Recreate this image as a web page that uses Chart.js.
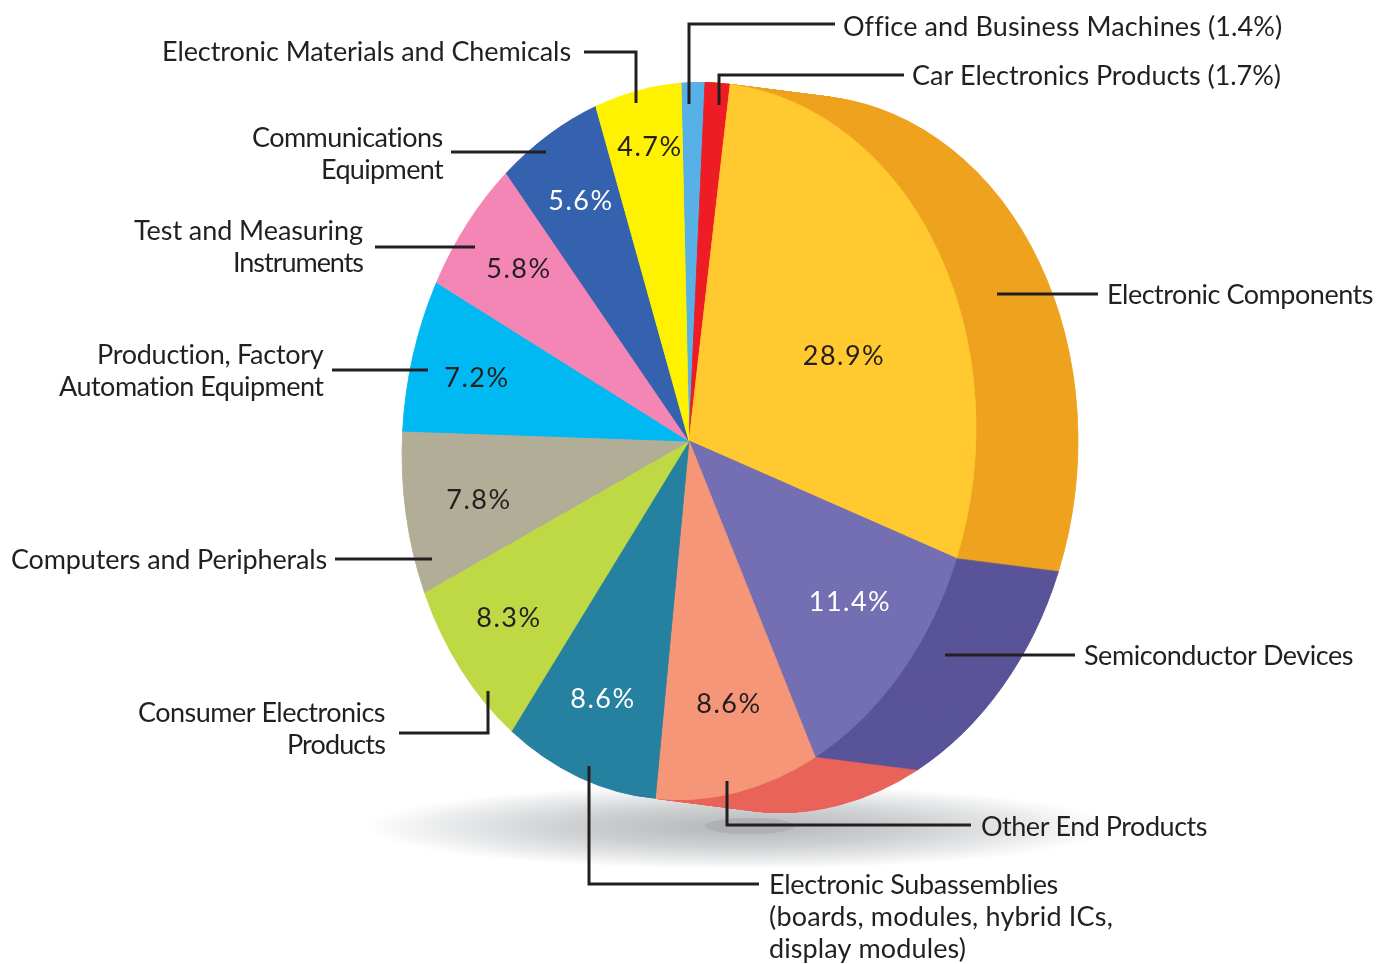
<!DOCTYPE html>
<html>
<head>
<meta charset="utf-8">
<title>Electronics end products</title>
<script src="https://cdn.jsdelivr.net/npm/chart.js@4/dist/chart.umd.min.js"></script>
<style>
  html, body { margin: 0; background: #fff; }
  canvas { display: block; }
</style>
</head>
<body>
<canvas id="pieChart" width="1390" height="964"></canvas>
<script>
// data, clockwise from the top of the pie
const categories = ['Office and Business Machines', 'Car Electronics Products', 'Electronic Components',
  'Semiconductor Devices', 'Other End Products', 'Electronic Subassemblies', 'Consumer Electronics Products',
  'Computers and Peripherals', 'Production, Factory Automation Equipment', 'Test and Measuring Instruments',
  'Communications Equipment', 'Electronic Materials and Chemicals'];
// the percentages printed on the picture
const printedShares = [1.4, 1.7, 28.9, 11.4, 8.6, 8.6, 8.3, 7.8, 7.2, 5.8, 5.6, 4.7];
// slice sizes measured off the artwork, it is not exactly to scale with the printed numbers
const drawnShares = [1.33, 1.40, 28.63, 11.85, 9.11, 8.74, 8.05, 7.38, 6.85, 6.13, 5.72, 4.82];

const sliceColors = ['#57B1E6', '#EE1C25', '#FFC92F', '#746FB2', '#F69679', '#26809F',
  '#BED944', '#B1AD96', '#00B9F2', '#F386B5', '#3462AE', '#FFF200'];
// side wall of the pie, only these slices show it
const wallColors = [null, '#EEA320', '#EEA320', '#5A5499', '#E9655A', null, null, null, null, null, null, null];

// percent labels: slice index, x, y, colour
const percentLabels = [
  [2, 844, 356, '#231F20'], [3, 850, 602, '#fff'], [4, 729, 704, '#231F20'],
  [5, 603, 699, '#fff'], [6, 509, 618, '#231F20'], [7, 479, 500, '#231F20'],
  [8, 477, 378, '#231F20'], [9, 519, 269, '#231F20'], [10, 581, 201, '#fff'],
  [11, 650, 147, '#231F20']
];

// callout text: text, left x, baseline, width in the reference
const calloutLabels = [
  ['Office and Business Machines (1.4%)', 843, 36, 438],
  ['Car Electronics Products (1.7%)', 912, 85, 369],
  ['Electronic Components', 1107, 304, 266],
  ['Semiconductor Devices', 1084, 665, 269],
  ['Other End Products', 981, 836, 226],
  ['Electronic Subassemblies', 769, 894, 289],
  ['(boards, modules, hybrid ICs,', 769, 926, 344],
  ['display modules)', 769, 958, 197],
  ['Electronic Materials and Chemicals', 162, 61, 409],
  ['Communications', 252, 147, 191],
  ['Equipment', 321, 179, 122],
  ['Test and Measuring', 134, 240, 229],
  ['Instruments', 233, 272, 130],
  ['Production, Factory', 97, 364, 227],
  ['Automation Equipment', 59, 396, 265],
  ['Computers and Peripherals', 11, 569, 316],
  ['Consumer Electronics', 138, 722, 247],
  ['Products', 287, 754, 98]
];

// leader lines as lists of x, y corners
const leaderLines = [
  [[835, 24], [689, 24], [689, 104]],
  [[904, 75], [719, 75], [719, 105]],
  [[584, 52], [636, 52], [636, 103]],
  [[451, 152], [546, 152]],
  [[375, 247], [475, 247]],
  [[332, 370], [428, 370]],
  [[997, 294], [1098, 294]],
  [[945, 655], [1075, 655]],
  [[335, 559], [432, 559]],
  [[399, 733], [488, 733], [488, 691]],
  [[727, 781], [727, 825], [971, 825]],
  [[589, 766], [589, 884], [759, 884]]
];

const inkColor = '#231F20';
const labelFont = '27px Lato';
// the pie is an upright ellipse leaning slightly to the right
const squashX = 0.8, leanX = 0.03;
const wallX = 102, wallY = 13, wallSteps = 120;

function drawFloorShadow(ctx) {
  ctx.save();
  ctx.translate(740, 827);
  ctx.scale(1, 42 / 375);
  const grad = ctx.createRadialGradient(0, 0, 0, 0, 0, 375);
  grad.addColorStop(0, '#B4B6B9');
  grad.addColorStop(0.45, '#CDCFD1');
  grad.addColorStop(0.8, '#EBECED');
  grad.addColorStop(1, '#FFFFFF');
  ctx.fillStyle = grad;
  ctx.beginPath();
  ctx.arc(0, 0, 375, 0, Math.PI * 2);
  ctx.fill();
  ctx.restore();

  ctx.fillStyle = '#AEB0B4';
  ctx.beginPath();
  ctx.ellipse(750, 826, 45, 8, 0, 0, Math.PI * 2);
  ctx.fill();
}

// stretch the letter gaps so a line takes the width it has in the reference
function fillFitted(ctx, text, x, y, width) {
  ctx.letterSpacing = '0px';
  const gap = (width - ctx.measureText(text).width) / text.length;
  ctx.letterSpacing = gap + 'px';
  ctx.fillText(text, x, y);
  ctx.letterSpacing = '0px';
}

const pie3dPlugin = {
  id: 'pie3d',
  beforeDatasetsDraw(chart) {
    const ctx = chart.ctx;
    const arcs = chart.getDatasetMeta(0).data;
    drawFloorShadow(ctx);

    // this transform stays on until afterDatasetsDraw so the slices get it too
    ctx.save();
    ctx.translate(arcs[0].x, arcs[0].y);
    ctx.transform(squashX, 0, -leanX, 1, 0, 0);
    ctx.translate(-arcs[0].x, -arcs[0].y);

    // side wall: copies of the slices, back to front
    const stepX = (wallX + leanX * wallY) / squashX / wallSteps;
    const stepY = wallY / wallSteps;
    for (let s = wallSteps; s > 0; s--) {
      ctx.save();
      ctx.translate(stepX * s, stepY * s);
      arcs.forEach((arc, i) => {
        if (!wallColors[i]) return;
        const wall = Object.create(arc);
        wall.options = {
          backgroundColor: wallColors[i], borderColor: wallColors[i], borderWidth: 1,
          borderAlign: 'center', borderJoinStyle: 'round', borderRadius: 0,
          borderDash: [], borderDashOffset: 0, offset: 0, spacing: 0, circular: true
        };
        wall.draw(ctx);
      });
      ctx.restore();
    }
  },
  afterDatasetsDraw(chart) {
    chart.ctx.restore();
  },
  afterDraw(chart) {
    const ctx = chart.ctx;
    ctx.save();
    ctx.strokeStyle = inkColor;
    ctx.lineWidth = 3;
    leaderLines.forEach(line => {
      ctx.beginPath();
      line.forEach((p, i) => i ? ctx.lineTo(p[0], p[1]) : ctx.moveTo(p[0], p[1]));
      ctx.stroke();
    });

    ctx.font = labelFont;
    ctx.textBaseline = 'alphabetic';
    ctx.textAlign = 'left';
    ctx.fillStyle = inkColor;
    calloutLabels.forEach(l => fillFitted(ctx, l[0], l[1], l[2], l[3]));

    ctx.textAlign = 'center';
    ctx.textBaseline = 'middle';
    ctx.letterSpacing = '1.5px';
    percentLabels.forEach(l => {
      ctx.fillStyle = l[3];
      ctx.fillText(printedShares[l[0]].toFixed(1) + '%', l[1], l[2]);
    });
    ctx.restore();
  }
};

new Chart(document.getElementById('pieChart'), {
  type: 'pie',
  data: {
    labels: categories,
    datasets: [{
      data: drawnShares,
      backgroundColor: sliceColors,
      borderColor: sliceColors,
      borderWidth: 1,
      clip: false
    }]
  },
  options: {
    responsive: false,
    animation: false,
    events: [],
    rotation: -3.74,
    layout: { padding: { left: 330, right: 342, top: 82, bottom: 164 } },
    plugins: { legend: { display: false }, tooltip: { enabled: false } }
  },
  plugins: [pie3dPlugin]
});
</script>
</body>
</html>
